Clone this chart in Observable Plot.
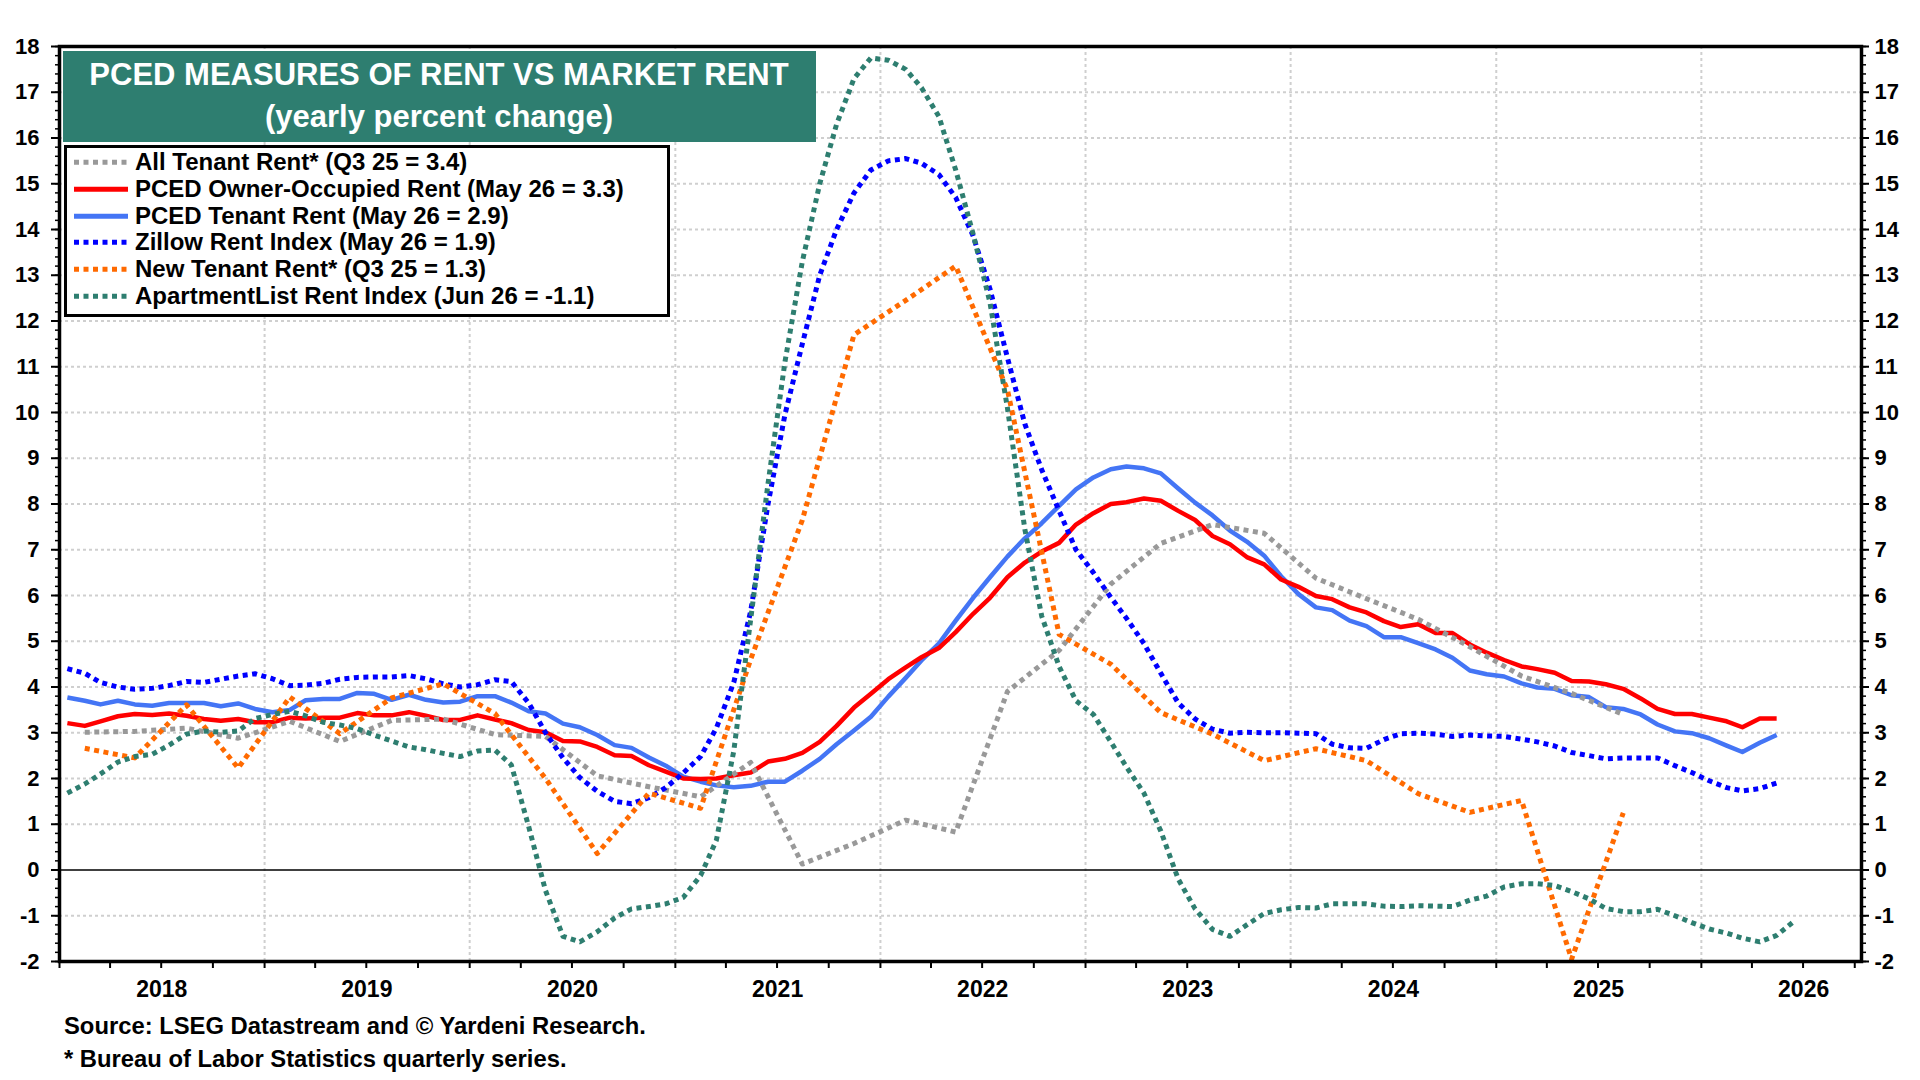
<!DOCTYPE html>
<html>
<head>
<meta charset="utf-8">
<script src="https://cdn.jsdelivr.net/npm/d3@7"></script>
<script src="https://cdn.jsdelivr.net/npm/@observablehq/plot@0.6"></script>
<style>
  html, body { margin: 0; padding: 0; background: #fff; }
  body { font-family: "Liberation Sans", Arial, sans-serif; font-weight: bold; color: #000; }
  #wrap { position: relative; width: 1920px; height: 1080px; overflow: hidden; background: #fff; }
  #chart { position: absolute; left: 0; top: 0; }
  #title { position: absolute; left: 62.5px; top: 50.5px; width: 753px; height: 91.5px;
           background: #2e7e70; color: #fff; font-size: 31px; text-align: center;
           line-height: 42px; padding-top: 3px; box-sizing: border-box; }
  #legend { position: absolute; left: 64px; top: 145px; width: 606px; height: 172px;
            border: 3px solid #000; background: #fff; box-sizing: border-box; }
  .row { position: absolute; left: 0; height: 26.7px; width: 100%; }
  .row svg { position: absolute; left: 5px; top: 0; }
  .row span { position: absolute; left: 68px; top: 0; font-size: 24px; line-height: 26.7px; white-space: nowrap; }
  .foot { position: absolute; left: 64px; font-size: 23.8px; line-height: 30px; white-space: nowrap; }
</style>
</head>
<body>
<div id="wrap">
  <div id="chart"></div>
  <div id="title">PCED MEASURES OF RENT VS MARKET RENT<br>(yearly percent change)</div>
  <div id="legend"></div>
  <div class="foot" id="foot1" style="top:1011px">Source: LSEG Datastream and © Yardeni Research.</div>
  <div class="foot" id="foot2" style="top:1044px">* Bureau of Labor Statistics quarterly series.</div>
</div>
<script>
// ---------------- DATA ----------------
// Monthly series start January 2018
const ownerRent = [
  3.21, 3.15, 3.25, 3.36, 3.41, 3.39, 3.42, 3.37, 3.30, 3.26, 3.30, 3.23,
  3.23, 3.33, 3.31, 3.33, 3.33, 3.43, 3.38, 3.38, 3.45, 3.37, 3.28, 3.28,
  3.38, 3.29, 3.21, 3.06, 3.01, 2.82, 2.81, 2.69, 2.51, 2.49, 2.29, 2.15,
  2.00, 1.99, 2.00, 2.07, 2.13, 2.37, 2.43, 2.56, 2.80, 3.15, 3.55, 3.85,
  4.17, 4.43, 4.65, 4.85, 5.20, 5.60, 5.95, 6.40, 6.72, 6.96, 7.15, 7.55,
  7.80, 8.00, 8.04, 8.12, 8.07, 7.85, 7.65, 7.30, 7.12, 6.84, 6.68, 6.35,
  6.19, 5.99, 5.92, 5.74, 5.63, 5.44, 5.31, 5.37, 5.18, 5.18, 4.93, 4.75,
  4.59, 4.45, 4.39, 4.31, 4.13, 4.12, 4.06, 3.96, 3.75, 3.52, 3.41, 3.41,
  3.33, 3.25, 3.12, 3.31, 3.31
];
const tenantRent = [
  3.77, 3.70, 3.62, 3.70, 3.62, 3.59, 3.65, 3.65, 3.65, 3.58, 3.64, 3.52,
  3.45, 3.50, 3.71, 3.74, 3.74, 3.87, 3.85, 3.72, 3.83, 3.72, 3.66, 3.68,
  3.80, 3.80, 3.66, 3.47, 3.42, 3.20, 3.12, 2.95, 2.73, 2.67, 2.46, 2.28,
  2.04, 1.93, 1.85, 1.81, 1.84, 1.93, 1.93, 2.17, 2.43, 2.75, 3.05, 3.35,
  3.79, 4.20, 4.58, 4.95, 5.45, 5.95, 6.40, 6.85, 7.25, 7.58, 7.96, 8.32,
  8.58, 8.76, 8.82, 8.78, 8.67, 8.34, 8.03, 7.75, 7.42, 7.18, 6.87, 6.42,
  6.03, 5.74, 5.68, 5.45, 5.33, 5.09, 5.09, 4.96, 4.82, 4.64, 4.36, 4.28,
  4.23, 4.08, 3.99, 3.96, 3.82, 3.78, 3.56, 3.52, 3.40, 3.18, 3.03, 2.99,
  2.88, 2.72, 2.58, 2.78, 2.95
];
const zillowRent = [
  4.40, 4.30, 4.10, 4.00, 3.95, 3.97, 4.03, 4.12, 4.10, 4.17, 4.24, 4.29,
  4.18, 4.03, 4.04, 4.08, 4.17, 4.21, 4.22, 4.22, 4.25, 4.18, 4.07, 4.00,
  4.05, 4.16, 4.12, 3.65, 3.00, 2.45, 2.02, 1.72, 1.50, 1.45, 1.58, 1.80,
  2.12, 2.48, 3.10, 4.10, 5.65, 8.00, 9.95, 11.50, 13.00, 14.00, 14.80, 15.30,
  15.50, 15.55, 15.45, 15.20, 14.70, 13.86, 12.70, 11.20, 9.75, 8.75, 7.85, 7.00,
  6.50, 5.96, 5.50, 4.95, 4.30, 3.65, 3.30, 3.08, 2.99, 3.01, 3.00, 3.00,
  2.99, 2.98, 2.75, 2.67, 2.66, 2.85, 2.98, 2.99, 2.97, 2.92, 2.95, 2.93,
  2.92, 2.86, 2.80, 2.71, 2.57, 2.50, 2.43, 2.45, 2.45, 2.45, 2.28, 2.13,
  1.95, 1.80, 1.73, 1.78, 1.90
];
const apartmentListRent = [
  1.68, 1.88, 2.10, 2.36, 2.48, 2.53, 2.73, 2.97, 3.04, 3.01, 3.04, 3.31,
  3.40, 3.47, 3.37, 3.23, 3.17, 3.09, 2.95, 2.82, 2.69, 2.63, 2.55, 2.48,
  2.60, 2.62, 2.30, 0.95, -0.45, -1.45, -1.57, -1.35, -1.05, -0.85, -0.80, -0.74,
  -0.60, -0.12, 0.65, 2.60, 5.47, 8.45, 11.10, 13.30, 15.00, 16.30, 17.30, 17.75,
  17.70, 17.50, 17.10, 16.47, 15.30, 13.90, 12.40, 10.10, 7.45, 5.55, 4.45, 3.70,
  3.40, 2.80, 2.25, 1.68, 0.85, -0.20, -0.85, -1.30, -1.45, -1.20, -0.95, -0.87,
  -0.82, -0.83, -0.74, -0.74, -0.74, -0.79, -0.80, -0.78, -0.79, -0.80, -0.66, -0.57,
  -0.37, -0.30, -0.30, -0.34, -0.47, -0.63, -0.84, -0.91, -0.91, -0.86, -1.00, -1.15,
  -1.29, -1.38, -1.49, -1.57, -1.43, -1.12
];
// Quarterly series (BLS) start 2018 Q1
const allTenantRent = [
  3.01, 3.03, 3.10, 2.88,
  3.25, 2.81, 3.27, 3.30,
  2.96, 2.92, 2.06, 1.82,
  1.60, 2.35, 0.13, 0.58,
  1.09, 0.83, 3.90, 4.80,
  6.25, 7.14, 7.55, 7.36,
  6.38, 5.93, 5.48, 4.88,
  4.24, 3.86, 3.40
];
const newTenantRent = [
  2.66, 2.45, 3.61, 2.23,
  3.78, 2.98, 3.76, 4.07,
  3.42, 2.00, 0.36, 1.68,
  1.35, 4.60, 7.65, 11.70,
  12.45, 13.20, 10.50, 5.15,
  4.50, 3.44, 2.97, 2.39,
  2.65, 2.39, 1.67, 1.26,
  1.52, -1.95, 1.25
];
const seriesNames = [
  "All Tenant Rent* (Q3 25 = 3.4)",
  "PCED Owner-Occupied Rent (May 26 = 3.3)",
  "PCED Tenant Rent (May 26 = 2.9)",
  "Zillow Rent Index (May 26 = 1.9)",
  "New Tenant Rent* (Q3 25 = 1.3)",
  "ApartmentList Rent Index (Jun 26 = -1.1)"
];
const yearLabels = ["2018", "2019", "2020", "2021", "2022", "2023", "2024", "2025", "2026"];
const yTickValues = [-2, -1, 0, 1, 2, 3, 4, 5, 6, 7, 8, 9, 10, 11, 12, 13, 14, 15, 16, 17, 18];

// ---------------- BUILD ----------------
const monthDate = i => new Date(Date.UTC(2018, i, 15));
const quarterDate = i => new Date(Date.UTC(2018, 1 + 3 * i, 15));
const rows = (arr, f) => arr.map((v, i) => ({date: f(i), value: v}));

const DOT = "5,4.5";
const styles = [
  {color: "#999999", dash: DOT},
  {color: "#ff0000", dash: null},
  {color: "#4475f5", dash: null},
  {color: "#0000ff", dash: DOT},
  {color: "#ff6a00", dash: DOT},
  {color: "#2e7e70", dash: DOT}
];

const dataSets = [
  rows(allTenantRent, quarterDate),
  rows(ownerRent, monthDate),
  rows(tenantRent, monthDate),
  rows(zillowRent, monthDate),
  rows(newTenantRent, quarterDate),
  rows(apartmentListRent, monthDate)
];

const yearStarts = yearLabels.slice(1).map(y => new Date(Date.UTC(+y, 0, 1)));
const yearMids = yearLabels.map(y => new Date(Date.UTC(+y, 6, 2)));
const quarterTicks = d3.utcMonth.every(3).range(new Date(Date.UTC(2018, 0, 1)), new Date(Date.UTC(2026, 9, 14)));
const minorY = d3.range(-2, 18.001, 0.2).map(v => Math.round(v * 10) / 10);
const gridY = yTickValues.filter(v => v !== 0 && v !== -2 && v !== 18);

const lineMark = (k) => Plot.line(dataSets[k], {
  x: "date", y: "value", stroke: styles[k].color,
  strokeWidth: styles[k].dash ? 5 : 4.5,
  strokeDasharray: styles[k].dash || undefined, strokeLinejoin: "round", strokeLinecap: "butt",
  clip: true
});

const chart = Plot.plot({
  width: 1920,
  height: 1000,
  marginLeft: 59,
  marginRight: 59,
  marginTop: 46,
  marginBottom: 39,
  x: {type: "utc", domain: [new Date(Date.UTC(2018, 0, 1)), new Date(Date.UTC(2026, 9, 13))], label: null},
  y: {domain: [-2, 18], label: null},
  style: {fontFamily: '"Liberation Sans", Arial, sans-serif', fontSize: "22px", fontWeight: "bold", color: "#000", background: "#fff", overflow: "visible"},
  marks: [
    Plot.ruleX(yearStarts, {stroke: "#cfcfcf", strokeWidth: 2, strokeDasharray: "3,3"}),
    Plot.ruleY(gridY, {stroke: "#cfcfcf", strokeWidth: 2, strokeDasharray: "3,3"}),
    Plot.ruleY([0], {stroke: "#000", strokeWidth: 1.5}),
    lineMark(2),
    lineMark(1),
    lineMark(0),
    lineMark(3),
    lineMark(4),
    lineMark(5),
    Plot.frame({stroke: "#000", strokeWidth: 3.5}),
    Plot.axisY({anchor: "left", ticks: minorY, tickSize: 4, tickFormat: () => "", strokeWidth: 1.5, label: null}),
    Plot.axisY({anchor: "left", ticks: yTickValues, tickSize: 8, tickPadding: 12, tickFormat: d => String(d), strokeWidth: 2, fontSize: 22, label: null}),
    Plot.axisY({anchor: "right", ticks: minorY, tickSize: 4, tickFormat: () => "", strokeWidth: 1.5, label: null}),
    Plot.axisY({anchor: "right", ticks: yTickValues, tickSize: 7, tickPadding: 6, tickFormat: d => String(d), strokeWidth: 2, fontSize: 22, label: null}),
    Plot.axisX({ticks: quarterTicks, tickSize: 7, tickFormat: () => "", strokeWidth: 2, label: null}),
    Plot.axisX({ticks: yearMids, tickSize: 0, tickPadding: 19, tickFormat: d => String(d.getUTCFullYear()), fontSize: 23, label: null})
  ]
});
document.getElementById("chart").appendChild(chart);

// ---------------- LEGEND ----------------
const legend = document.getElementById("legend");
seriesNames.forEach((name, i) => {
  const row = document.createElement("div");
  row.className = "row";
  row.style.top = (1.35 + 26.7 * i) + "px";
  const ns = "http://www.w3.org/2000/svg";
  const svg = document.createElementNS(ns, "svg");
  svg.setAttribute("width", "56");
  svg.setAttribute("height", "26.7");
  const ln = document.createElementNS(ns, "line");
  ln.setAttribute("x1", "2"); ln.setAttribute("x2", "56");
  ln.setAttribute("y1", "13.35"); ln.setAttribute("y2", "13.35");
  ln.setAttribute("stroke", styles[i].color);
  ln.setAttribute("stroke-width", "5");
  if (styles[i].dash) ln.setAttribute("stroke-dasharray", styles[i].dash);
  svg.appendChild(ln);
  row.appendChild(svg);
  const sp = document.createElement("span");
  sp.textContent = name;
  row.appendChild(sp);
  legend.appendChild(row);
});
</script>
</body>
</html>
